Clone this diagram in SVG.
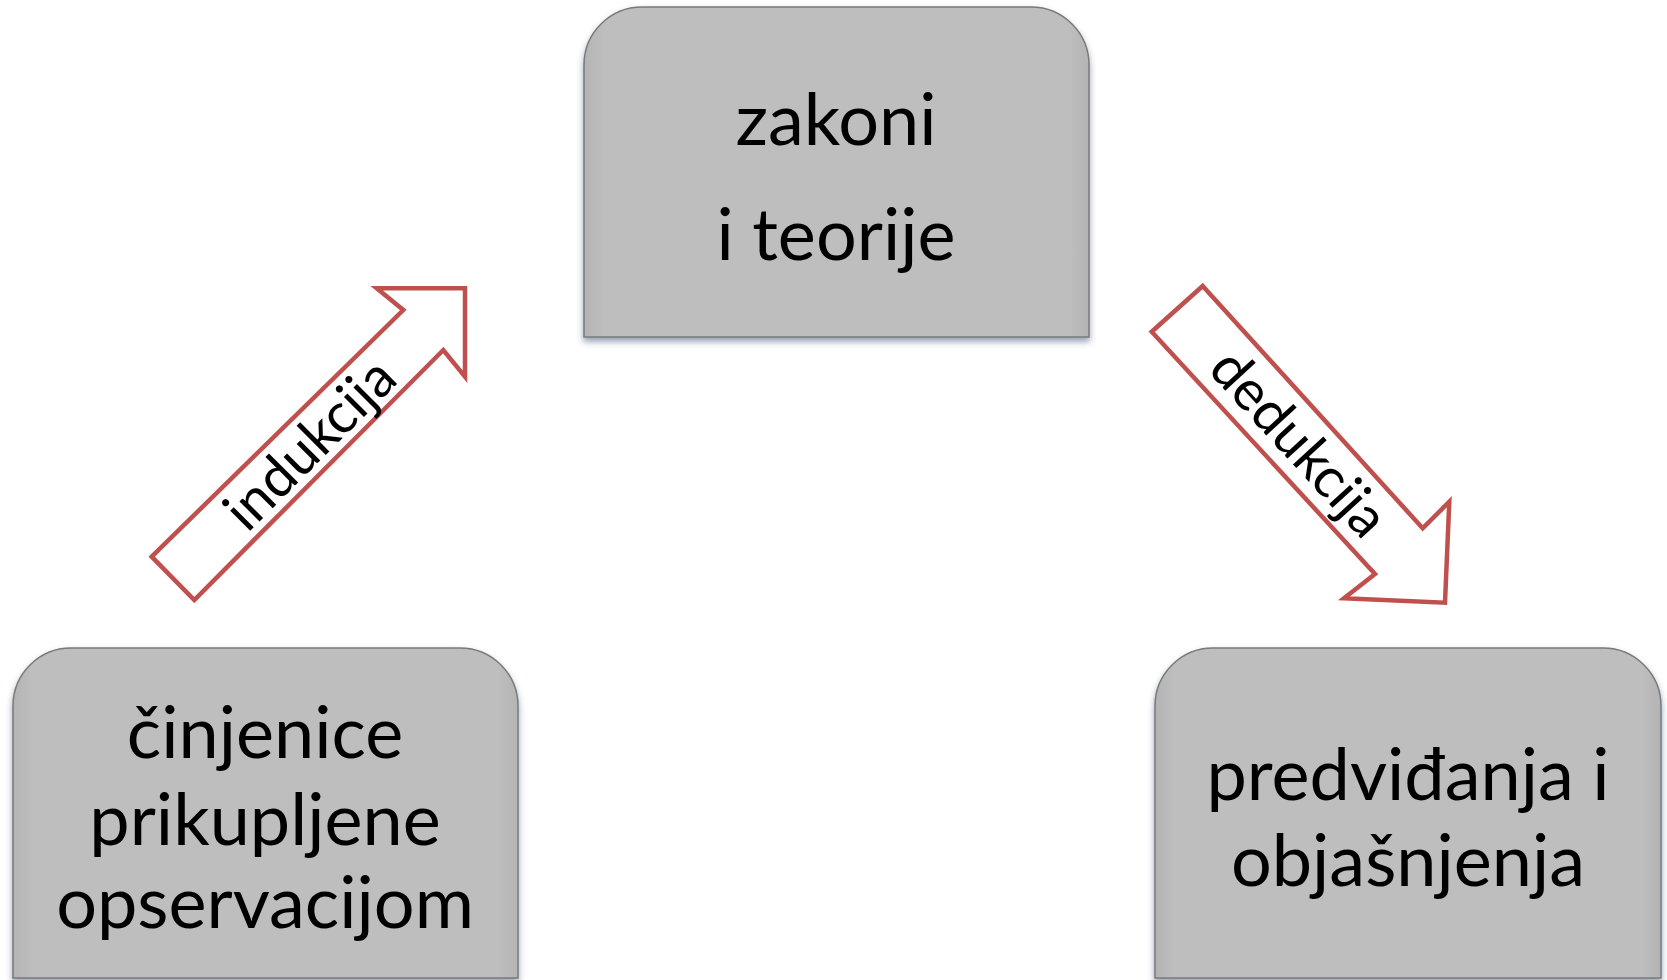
<svg xmlns="http://www.w3.org/2000/svg" width="1667" height="980" viewBox="0 0 1667 980">
<defs>
<filter id="sh" x="-10%" y="-10%" width="120%" height="125%">
<feGaussianBlur in="SourceAlpha" stdDeviation="3"/>
<feOffset dy="4" result="b"/>
<feFlood flood-color="#3d5578" flood-opacity="0.55"/>
<feComposite in2="b" operator="in"/>
<feMerge><feMergeNode/><feMergeNode in="SourceGraphic"/></feMerge>
</filter>
<linearGradient id="g" x1="0" y1="0" x2="1" y2="0">
<stop offset="0" stop-color="#b4b4b4"/>
<stop offset="0.04" stop-color="#bebebe"/>
<stop offset="0.96" stop-color="#bebebe"/>
<stop offset="1" stop-color="#b4b4b4"/>
</linearGradient>
</defs>
<style>
.box{fill:url(#g);stroke:#7a7a7a;stroke-width:1.5}
.t{font-family:Lato,"Open Sans",sans-serif;font-size:72px;fill:#000;text-anchor:middle}
.arr{fill:#fff;stroke:#c0504d;stroke-width:4.5;stroke-linejoin:miter}
.lab{font-family:Lato,"Open Sans",sans-serif;font-size:56px;fill:#000;text-anchor:middle}
</style>
<rect width="1667" height="980" fill="#fff"/>
<g id="zakoni">
<path class="box" filter="url(#sh)" d="M584,337 V65 A58,58 0 0 1 642,7 H1031 A58,58 0 0 1 1089,65 V337 Z"/>
<text class="t" x="836" y="145">zakoni</text>
<text class="t" x="836" y="260">i teorije</text>
</g>
<g id="cinjenice">
<path class="box" filter="url(#sh)" d="M13,978 V706 A58,58 0 0 1 71,648 H460 A58,58 0 0 1 518,706 V978 Z"/>
<text class="t" x="265" y="758">činjenice</text>
<text class="t" x="265" y="845">prikupljene</text>
<text class="t" x="265" y="928">opservacijom</text>
</g>
<g id="predvidanja">
<path class="box" filter="url(#sh)" d="M1155,978 V706 A58,58 0 0 1 1213,648 H1603 A58,58 0 0 1 1661,706 V978 Z"/>
<text class="t" x="1408" y="800">predviđanja i</text>
<text class="t" x="1408" y="886">objašnjenja</text>
</g>
<g id="connectors">
<g id="indukcija">
<polygon class="arr" points="151.7,556.7 403.3,310 376.7,288.3 465,288.3 465,376.7 443.3,350 194.3,600"/>
<text class="lab" transform="translate(310,444) rotate(-45)" x="0" y="19">indukcija</text>
</g>
<g id="dedukcija">
<polygon class="arr" points="1202.7,286 1422.7,528.3 1449.3,501.7 1445,602.7 1344,598.3 1375,574 1151.7,331.7"/>
<text class="lab" transform="translate(1299,443) rotate(47.5)" x="0" y="19">dedukcija</text>
</g>
</g>
</svg>
